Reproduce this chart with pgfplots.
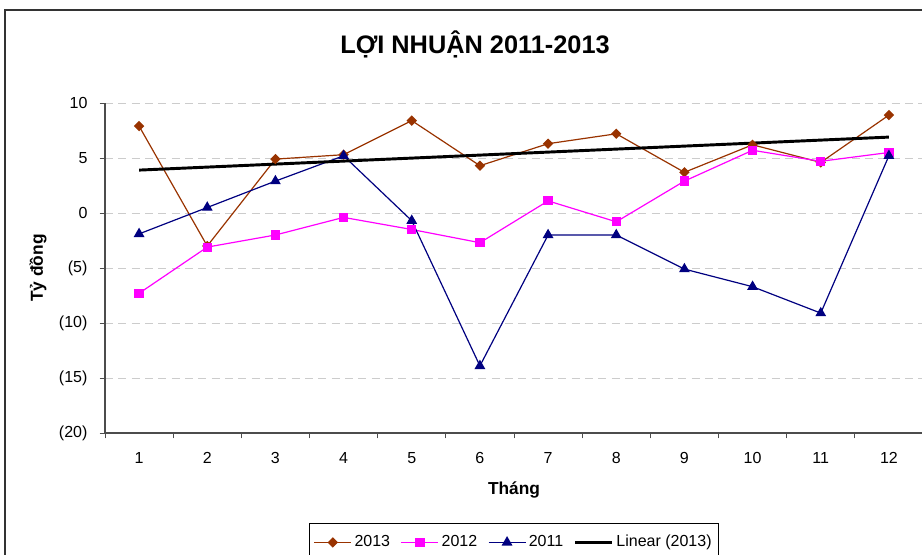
\documentclass[border=0pt]{standalone}
\usepackage{fontspec}
\setmainfont{Liberation Sans}
\usepackage{pgfplots}
\pgfplotsset{compat=1.18}
\definecolor{c13}{HTML}{993300}
\definecolor{c12}{HTML}{FF00FF}
\definecolor{c11}{HTML}{000080}
\begin{document}
\fontsize{12}{14}\selectfont
\begin{tikzpicture}[x=0.75pt,y=0.75pt]
\useasboundingbox (0,0) rectangle (922,554);
\draw[line width=1.1pt, black!80] (5,-20) -- (5,544) -- (960,544);
\node[font=\bfseries\fontsize{19}{20}\selectfont] at (475,510) {LỢI NHUẬN 2011-2013};
\node[font=\bfseries\fontsize{13}{14}\selectfont] at (514,64) {Tháng};
\node[font=\bfseries\fontsize{13}{14}\selectfont,rotate=90] at (38,286) {Tỷ đồng};
\begin{axis}[at={(78.75pt,90.75pt)}, anchor=south west, scale only axis,
  width=613.5pt, height=247.5pt,
  /pgf/number format/assume math mode=true,
  xmin=0.5, xmax=12.5, ymin=-20, ymax=10,
  ytick={-20,-15,...,10}, yticklabels={(20),(15),(10),(5),0,5,10},
  xtick={1,...,12},
  minor xtick={0.5,1.5,...,12.5},
  axis lines*=left,
  axis line style={black!70, line width=0.8pt},
  tick align=outside,
  major tick length=4pt, minor tick length=4pt,
  major x tick style={draw=none},
  tick style={black!70, line width=0.6pt},
  ymajorgrids,
  grid style={gray!40, line width=0.7pt, dash pattern=on 6pt off 4pt},
  ticklabel style={font=\fontsize{12}{14}\selectfont},
  yticklabel style={xshift=-5pt},
  xticklabel style={yshift=-6.5pt},
  legend columns=4,
  legend style={at={(0.5,-0.2727)}, anchor=north, draw=black, line width=0.6pt,
    inner xsep=3pt, inner ysep=7pt, font=\fontsize{12}{14}\selectfont,
    /tikz/every even column/.append style={column sep=6pt}},
  legend image code/.code={\draw[mark repeat=2,mark phase=2] plot coordinates {(0pt,0pt)(13.9pt,0pt)(27.75pt,0pt)};},
  clip=false,
]
\addplot[c13, line width=0.9pt, mark=square*, mark size=2.3pt, mark options={solid, rotate=45}] coordinates {
(1,7.9)(2,-3.0)(3,4.9)(4,5.3)(5,8.4)(6,4.3)(7,6.3)(8,7.2)(9,3.7)(10,6.2)(11,4.6)(12,8.9)};
\addlegendentry{2013}
\addplot[c12, line width=0.9pt, mark=square*, mark size=3pt] coordinates {
(1,-7.3)(2,-3.1)(3,-2.0)(4,-0.4)(5,-1.5)(6,-2.7)(7,1.1)(8,-0.8)(9,2.9)(10,5.7)(11,4.7)(12,5.5)};
\addlegendentry{2012}
\addplot[c11, line width=0.9pt, mark=triangle*, mark size=3.8pt] coordinates {
(1,-1.9)(2,0.5)(3,2.9)(4,5.2)(5,-0.7)(6,-13.9)(7,-2.0)(8,-2.0)(9,-5.1)(10,-6.7)(11,-9.1)(12,5.2)};
\addlegendentry{2011}
\addplot[black, line width=2.2pt, no marks] coordinates {(1,3.9)(12,6.9)};
\addlegendentry{Linear (2013)}
\end{axis}
\end{tikzpicture}
\end{document}
